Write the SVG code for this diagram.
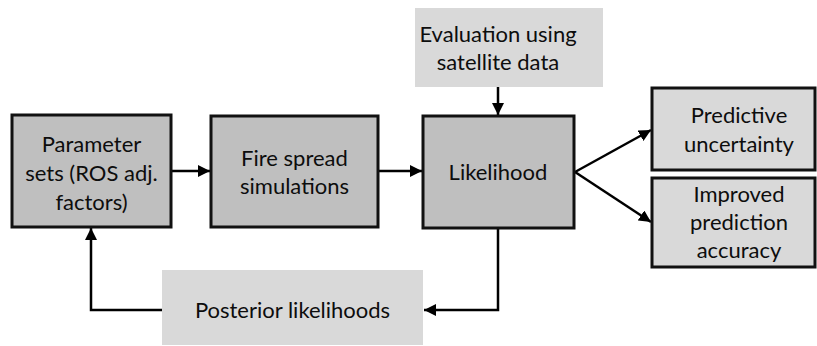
<svg xmlns="http://www.w3.org/2000/svg" width="817" height="346" viewBox="0 0 817 346">
  <defs>
    <marker id="arrow" viewBox="0 0 10 10" refX="10" refY="5" markerWidth="4.8" markerHeight="4.8" markerUnits="strokeWidth" orient="auto">
      <path d="M0,0 L10,5 L0,10 z" fill="#000"/>
    </marker>
  </defs>
  <style>
    .main { fill: #bfbfbf; stroke: #111; stroke-width: 3; }
    .out { fill: #d9d9d9; stroke: #111; stroke-width: 3; }
    .side { fill: #d9d9d9; stroke: none; }
    text { font-family: "Lato", "Open Sans", sans-serif; font-size: 22px; fill: #0d0d0d; text-anchor: middle; }
    .conn { fill: none; stroke: #000; stroke-width: 2.5; marker-end: url(#arrow); }
  </style>
  <rect width="817" height="346" fill="#fff"/>

  <g id="connectors">
    <line class="conn" x1="171" y1="171" x2="210" y2="171"/>
    <line class="conn" x1="378" y1="171" x2="422" y2="171"/>
    <line class="conn" x1="498" y1="87" x2="498" y2="115"/>
    <line class="conn" x1="575" y1="172" x2="651" y2="130"/>
    <line class="conn" x1="575" y1="172" x2="651" y2="222"/>
    <polyline class="conn" points="498,228 498,310 424,310"/>
    <polyline class="conn" points="162,310 91,310 91,228"/>
  </g>

  <g id="parameter-sets">
    <rect class="main" x="12" y="115" width="159" height="112"/>
    <text x="91.5" y="152">Parameter</text>
    <text x="91.5" y="181">sets (ROS adj.</text>
    <text x="91.5" y="210">factors)</text>
  </g>

  <g id="fire-spread">
    <rect class="main" x="211" y="116" width="167" height="111"/>
    <text x="294.5" y="166">Fire spread</text>
    <text x="294.5" y="194">simulations</text>
  </g>

  <g id="evaluation">
    <rect class="side" x="415" y="8" width="188" height="79"/>
    <text x="498" y="42">Evaluation using</text>
    <text x="498" y="70">satellite data</text>
  </g>

  <g id="likelihood">
    <rect class="main" x="423" y="116" width="151" height="112"/>
    <text x="498" y="180">Likelihood</text>
  </g>

  <g id="predictive-uncertainty">
    <rect class="out" x="652" y="88" width="163" height="82"/>
    <text x="739" y="123">Predictive</text>
    <text x="739" y="152">uncertainty</text>
  </g>

  <g id="improved-accuracy">
    <rect class="out" x="652" y="178" width="163" height="89"/>
    <text x="739" y="202">Improved</text>
    <text x="739" y="230">prediction</text>
    <text x="739" y="258">accuracy</text>
  </g>

  <g id="posterior">
    <rect class="side" x="162" y="270" width="261" height="75"/>
    <text x="292.5" y="318">Posterior likelihoods</text>
  </g>
</svg>
